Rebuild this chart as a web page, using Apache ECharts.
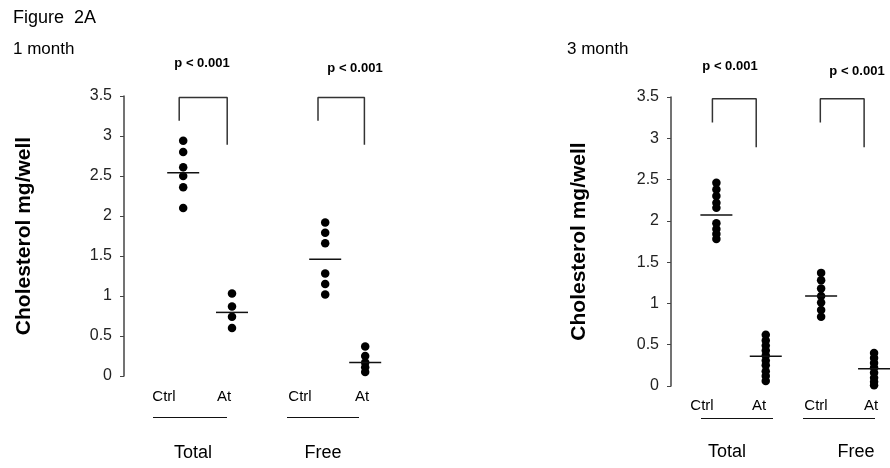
<!DOCTYPE html>
<html>
<head>
<meta charset="utf-8">
<script src="https://cdn.jsdelivr.net/npm/echarts@6/dist/echarts.min.js"></script>
<style>
  html, body { margin: 0; padding: 0; background: #fff; }
  #chart { width: 890px; height: 468px; }
</style>
</head>
<body>
<div id="chart"></div>
<script>
// group order: Total Ctrl, Total At, Free Ctrl, Free At
const groupNames = ["Ctrl", "At", "Ctrl", "At"];
const fractionNames = ["Total", "Free"];
const yTicks = [0, 0.5, 1, 1.5, 2, 2.5, 3, 3.5];

// 1 month
const m1TotalCtrl = [2.94, 2.80, 2.61, 2.50, 2.36, 2.10];
const m1TotalAt = [1.03, 0.87, 0.74, 0.60];
const m1FreeCtrl = [1.92, 1.79, 1.66, 1.28, 1.15, 1.02];
const m1FreeAt = [0.37, 0.25, 0.17, 0.11, 0.05];
const m1Means = [2.54, 0.795, 1.46, 0.17];
const m1GroupX = [1.48, 2.7, 5.03, 6.03];

// 3 month
const m3TotalCtrl = [2.46, 2.38, 2.30, 2.22, 2.16, 1.97, 1.90, 1.84, 1.78];
const m3TotalAt = [0.62, 0.55, 0.49, 0.43, 0.37, 0.31, 0.25, 0.18, 0.12, 0.06];
const m3FreeCtrl = [1.37, 1.28, 1.18, 1.09, 1.01, 0.92, 0.84];
const m3FreeAt = [0.40, 0.34, 0.28, 0.22, 0.16, 0.10, 0.05, 0.01];
const m3Means = [2.07, 0.36, 1.09, 0.21];
const m3GroupX = [1.14, 2.38, 3.77, 5.1];

// significance brackets: [left leg bottom, top, right leg bottom]
const bracketY = [3.19, 3.48, 2.89];
const pLabel = "p < 0.001";

const chart = echarts.init(document.getElementById("chart"));
const FONT = "Liberation Sans";

function panelSeries(idx, groups, means, gx, bx) {
  const s = [];
  s.push({
    type: "scatter", xAxisIndex: idx, yAxisIndex: idx, clip: false,
    symbolSize: 8.5, itemStyle: { color: "#000", opacity: 1 },
    data: groups.flatMap((vals, i) => vals.map(v => [gx[i], v]))
  });
  s.push({
    type: "scatter", xAxisIndex: idx, yAxisIndex: idx, clip: false,
    symbol: "rect", symbolSize: [32, 1.5], itemStyle: { color: "#111", opacity: 1 },
    data: means.map((m, i) => [gx[i], m])
  });
  // brackets between Ctrl and At of each fraction
  for (let k = 0; k < 2; k++) {
    s.push({
      type: "line", xAxisIndex: idx, yAxisIndex: idx, symbol: "none",
      lineStyle: { color: "#333", width: 1.5 }, silent: true,
      data: [[bx[k][0], bracketY[0]], [bx[k][0], bracketY[1]],
             [bx[k][1], bracketY[1]], [bx[k][1], bracketY[2]]]
    });
  }
  return s;
}

function yAxisOpt(idx, gap) {
  return {
    gridIndex: idx, type: "value", min: 0, max: 3.5, interval: 0.5,
    name: "Cholesterol mg/well", nameLocation: "middle", nameRotate: 90, nameGap: gap,
    nameTextStyle: { fontFamily: FONT, fontWeight: "bold", fontSize: 21, color: "#000" },
    splitLine: { show: false },
    axisLine: { show: true, lineStyle: { color: "#444", width: 1.5 } },
    axisTick: { show: true, length: 4, lineStyle: { color: "#444" } },
    axisLabel: { margin: 12, fontFamily: FONT, fontSize: 16, color: "#222",
      formatter: v => yTicks.indexOf(v) >= 0 ? String(v) : "" }
  };
}

function txt(x, y, s, size, bold, align) {
  return {
    type: "text", x: x, y: y,
    style: { text: s, fontFamily: FONT, fontSize: size, fontWeight: bold ? "bold" : "normal",
      fill: "#000", align: align || "center", verticalAlign: "middle" }
  };
}
// underline under a Ctrl/At pair, snapped to a pixel row
function hline(x1, x2, y) {
  return { type: "line", shape: { x1: x1, y1: y + 0.5, x2: x2, y2: y + 0.5 }, style: { stroke: "#111", lineWidth: 1 } };
}

const graphics = [
  txt(13, 18, "Figure  2A", 18, false, "left"),
  txt(13, 49, "1 month", 17, false, "left"),
  txt(567, 49, "3 month", 17, false, "left"),
  txt(202, 63, pLabel, 13, true), txt(355, 68, pLabel, 13, true),
  txt(730, 66, pLabel, 13, true), txt(857, 71, pLabel, 13, true),
  // 1 month groups
  txt(164, 397, groupNames[0], 15), txt(224, 397, groupNames[1], 15),
  txt(300, 397, groupNames[2], 15), txt(362, 397, groupNames[3], 15),
  hline(153, 227, 417), hline(287, 359, 417),
  txt(193, 453, fractionNames[0], 18), txt(323, 453, fractionNames[1], 18),
  // 3 month groups
  txt(702, 406, groupNames[0], 15), txt(759, 406, groupNames[1], 15),
  txt(816, 406, groupNames[2], 15), txt(871, 406, groupNames[3], 15),
  hline(701, 773, 418), hline(803, 875, 418),
  txt(727, 452, fractionNames[0], 18), txt(856, 452, fractionNames[1], 18)
];

chart.setOption({
  animation: false,
  backgroundColor: "#fff",
  grid: [
    { left: 124, top: 96, width: 280, height: 280 },
    { left: 671, top: 97, width: 220, height: 289 }
  ],
  xAxis: [
    { gridIndex: 0, type: "value", min: 0, max: 7, show: false },
    { gridIndex: 1, type: "value", min: 0, max: 5.5, show: false }
  ],
  yAxis: [yAxisOpt(0, 89), yAxisOpt(1, 81)],
  series: [
    ...panelSeries(0, [m1TotalCtrl, m1TotalAt, m1FreeCtrl, m1FreeAt], m1Means, m1GroupX,
      [[1.38, 2.58], [4.85, 6.01]]),
    ...panelSeries(1, [m3TotalCtrl, m3TotalAt, m3FreeCtrl, m3FreeAt], m3Means, m3GroupX,
      [[1.04, 2.14], [3.75, 4.85]])
  ],
  graphic: graphics
});
</script>
</body>
</html>
